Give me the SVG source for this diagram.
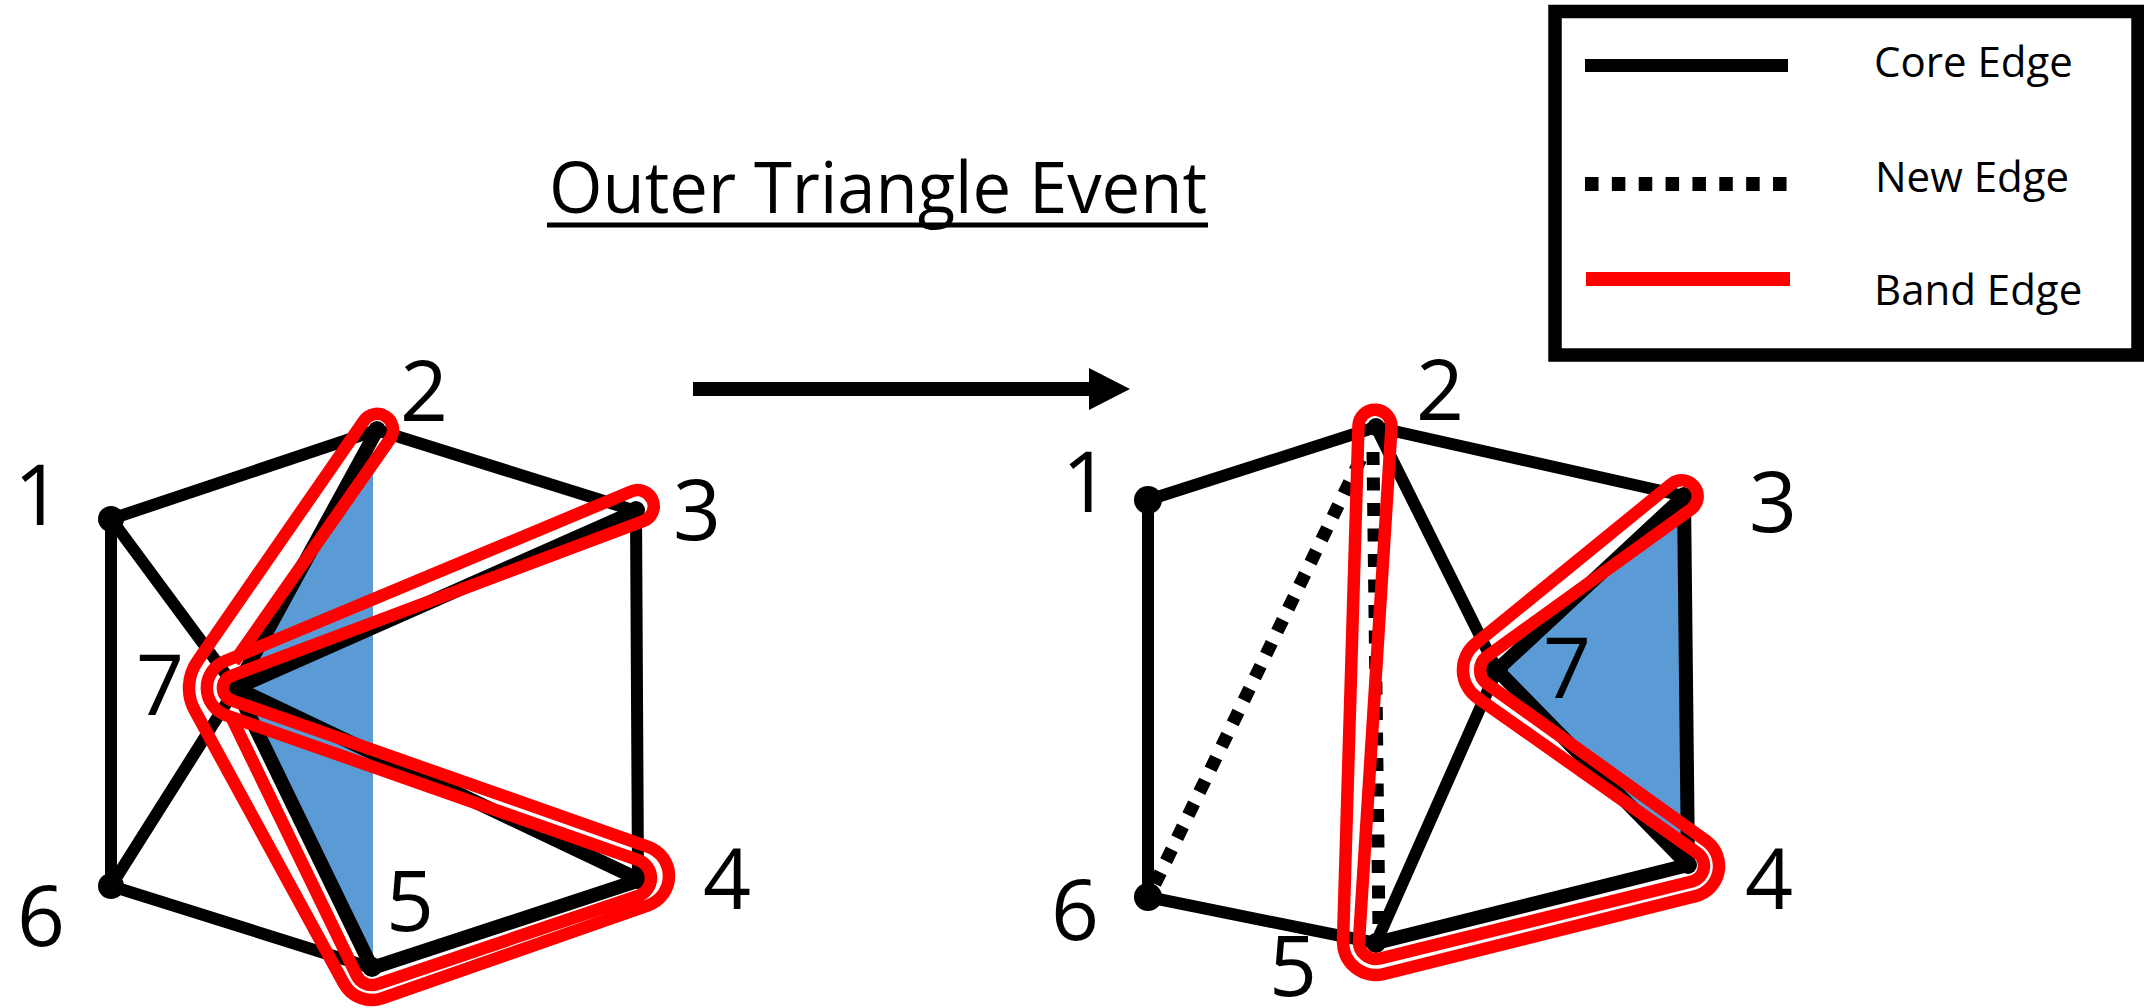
<svg xmlns="http://www.w3.org/2000/svg" width="2144" height="1008" viewBox="0 0 2144 1008">
<style>
.e{stroke:#000;stroke-width:12;stroke-linecap:round;fill:none}
.t{stroke-width:14}
.dash{stroke:#000;stroke-width:13;fill:none;stroke-dasharray:13 12.5}
.band{fill:none;stroke:#FF0000;stroke-width:12.5;stroke-linejoin:round}
.fill{fill:#5B9BD5}
.dot{fill:#000}
.lbl{font-family:"Open Sans","Liberation Sans",sans-serif;font-size:84px;fill:#000;text-anchor:middle}
.leg{font-family:"Open Sans","Liberation Sans",sans-serif;font-size:42px;fill:#000}
</style>
<rect width="2144" height="1008" fill="#fff"/>

<g id="title">
<text x="549" y="213" font-family="Open Sans, Liberation Sans, sans-serif" font-size="71" textLength="658" lengthAdjust="spacingAndGlyphs">Outer Triangle Event</text>
<rect x="547" y="222.5" width="661" height="5" fill="#000"/>
</g>

<g id="arrow">
<rect x="693" y="382" width="397" height="14" fill="#000"/>
<polygon points="1089,368 1130,389 1089,410" fill="#000"/>
</g>

<g id="legend">
<rect x="1555" y="11.5" width="583" height="343.5" fill="#fff" stroke="#000" stroke-width="13.5"/>
<line x1="1585" y1="65.5" x2="1788" y2="65.5" stroke="#000" stroke-width="13"/>
<line x1="1585" y1="184" x2="1787" y2="184" stroke="#000" stroke-width="14" stroke-dasharray="13.5 13.36"/>
<line x1="1586" y1="279" x2="1790" y2="279" stroke="#FF0000" stroke-width="14"/>
<text class="leg" x="1874" y="77">Core Edge</text>
<text class="leg" x="1875" y="192">New Edge</text>
<text class="leg" x="1874" y="305">Band Edge</text>
</g>

<!-- LEFT GRAPH -->
<g id="left-graph">
<polygon class="fill" points="373,432 236,688 373,968"/>
<g id="left-edges">
<line class="e" x1="111" y1="519" x2="377" y2="430"/>
<line class="e" x1="377" y1="430" x2="636" y2="511"/>
<line class="e" x1="636" y1="511" x2="638" y2="880"/>
<line class="e" x1="111" y1="519" x2="111" y2="886"/>
<line class="e" x1="111" y1="886" x2="372" y2="968"/>
<line class="e" x1="111" y1="519" x2="236" y2="688"/>
<line class="e" x1="111" y1="886" x2="236" y2="688"/>
<line class="e t" x1="377" y1="430" x2="236" y2="688"/>
<line class="e t" x1="236" y1="688" x2="636" y2="511"/>
<line class="e t" x1="236" y1="688" x2="640" y2="880"/>
<line class="e t" x1="236" y1="688" x2="372" y2="968"/>
<line class="e t" x1="372" y1="968" x2="640" y2="880"/>
</g>
<g id="left-nodes">
<g id="L1"><circle class="dot" cx="111" cy="519" r="13"/><text class="lbl" x="38" y="525">1</text></g>
<g id="L2"><circle class="dot" cx="377" cy="430" r="9"/><text class="lbl" x="424" y="421">2</text></g>
<g id="L3"><circle class="dot" cx="636" cy="510" r="9"/><text class="lbl" x="697" y="540">3</text></g>
<g id="L4"><circle class="dot" cx="638" cy="880" r="9"/><text class="lbl" x="727" y="909">4</text></g>
<g id="L5"><circle class="dot" cx="372" cy="967" r="10"/><text class="lbl" x="410" y="931">5</text></g>
<g id="L6"><circle class="dot" cx="111" cy="886" r="13"/><text class="lbl" x="41" y="946">6</text></g>
<g id="L7"><circle class="dot" cx="236" cy="688" r="10"/><text class="lbl" x="160" y="715">7</text></g>
</g>
<path id="left-band" class="band" d="M 234,662 L 391.0,437.7 A 16 16 0 0 0 363.8,420.9 L 197.4,661.2 A 47 47 0 0 0 194.8,710.6 L 343.9,983.4 A 32 32 0 0 0 382.6,998.2 L 648.2,905.3 A 31 31 0 0 0 648.3,846.8 L 231.7,700.3 A 13 13 0 0 1 231.4,675.8 L 643.6,521.0 A 16 16 0 1 0 631.8,491.2 L 224.8,661.2 A 29 29 0 0 0 226.4,715.4 L 638.3,860.1 A 19 19 0 0 1 638.1,896.0 L 377.4,984.1 A 17 17 0 0 1 356.7,975.4 L 231.0,716.5"/>
</g>

<!-- RIGHT GRAPH -->
<g id="right-graph">
<polygon class="fill" points="1684,496 1497,670 1688,865"/>
<g id="right-edges">
<line class="e" x1="1148" y1="500" x2="1376" y2="427"/>
<line class="e" x1="1376" y1="427" x2="1684" y2="496"/>
<line class="e t" x1="1684" y1="496" x2="1688" y2="865"/>
<line class="e" x1="1148" y1="500" x2="1148" y2="897"/>
<line class="e" x1="1148" y1="897" x2="1376" y2="943"/>
<line class="e" x1="1376" y1="427" x2="1497" y2="670"/>
<line class="e" x1="1497" y1="670" x2="1376" y2="943"/>
<line class="e t" x1="1497" y1="670" x2="1684" y2="496"/>
<line class="e t" x1="1497" y1="670" x2="1688" y2="865"/>
<line class="e t" x1="1376" y1="943" x2="1688" y2="865"/>
<line class="dash" x1="1155" y1="884" x2="1366" y2="448"/>
<line class="dash" x1="1373" y1="452" x2="1379" y2="930"/>
</g>
<g id="right-nodes">
<g id="R1"><circle class="dot" cx="1148" cy="500" r="14"/><text class="lbl" x="1086" y="512">1</text></g>
<g id="R2"><circle class="dot" cx="1376" cy="427" r="9"/><text class="lbl" x="1440" y="420">2</text></g>
<g id="R3"><circle class="dot" cx="1684" cy="496" r="9"/><text class="lbl" x="1773" y="532">3</text></g>
<g id="R4"><circle class="dot" cx="1688" cy="865" r="9"/><text class="lbl" x="1769" y="909">4</text></g>
<g id="R5"><circle class="dot" cx="1376" cy="943" r="10"/><text class="lbl" x="1293" y="996">5</text></g>
<g id="R6"><circle class="dot" cx="1148" cy="897" r="14"/><text class="lbl" x="1075" y="940">6</text></g>
<g id="R7"><circle class="dot" cx="1497" cy="670" r="11"/><text class="lbl" x="1567" y="698">7</text></g>
</g>
<path id="right-band" class="band" d="M 1358.5,425.5 L 1343.0,941.0 A 33 33 0 0 0 1384.0,974.0 L 1695.5,896.1 A 31 31 0 0 0 1706.1,840.8 L 1487.1,683.8 A 17 17 0 0 1 1487.1,656.2 L 1691.4,509.0 A 16 16 0 1 0 1671.9,483.6 L 1475.5,643.6 A 34 34 0 0 0 1477.4,697.8 L 1697.2,852.9 A 16 16 0 0 1 1691.8,881.5 L 1380.1,958.5 A 17 17 0 0 1 1359.0,940.9 L 1391.5,427.0 A 16.5 16.5 0 1 0 1358.5,425.5 Z"/>
</g>
</svg>
